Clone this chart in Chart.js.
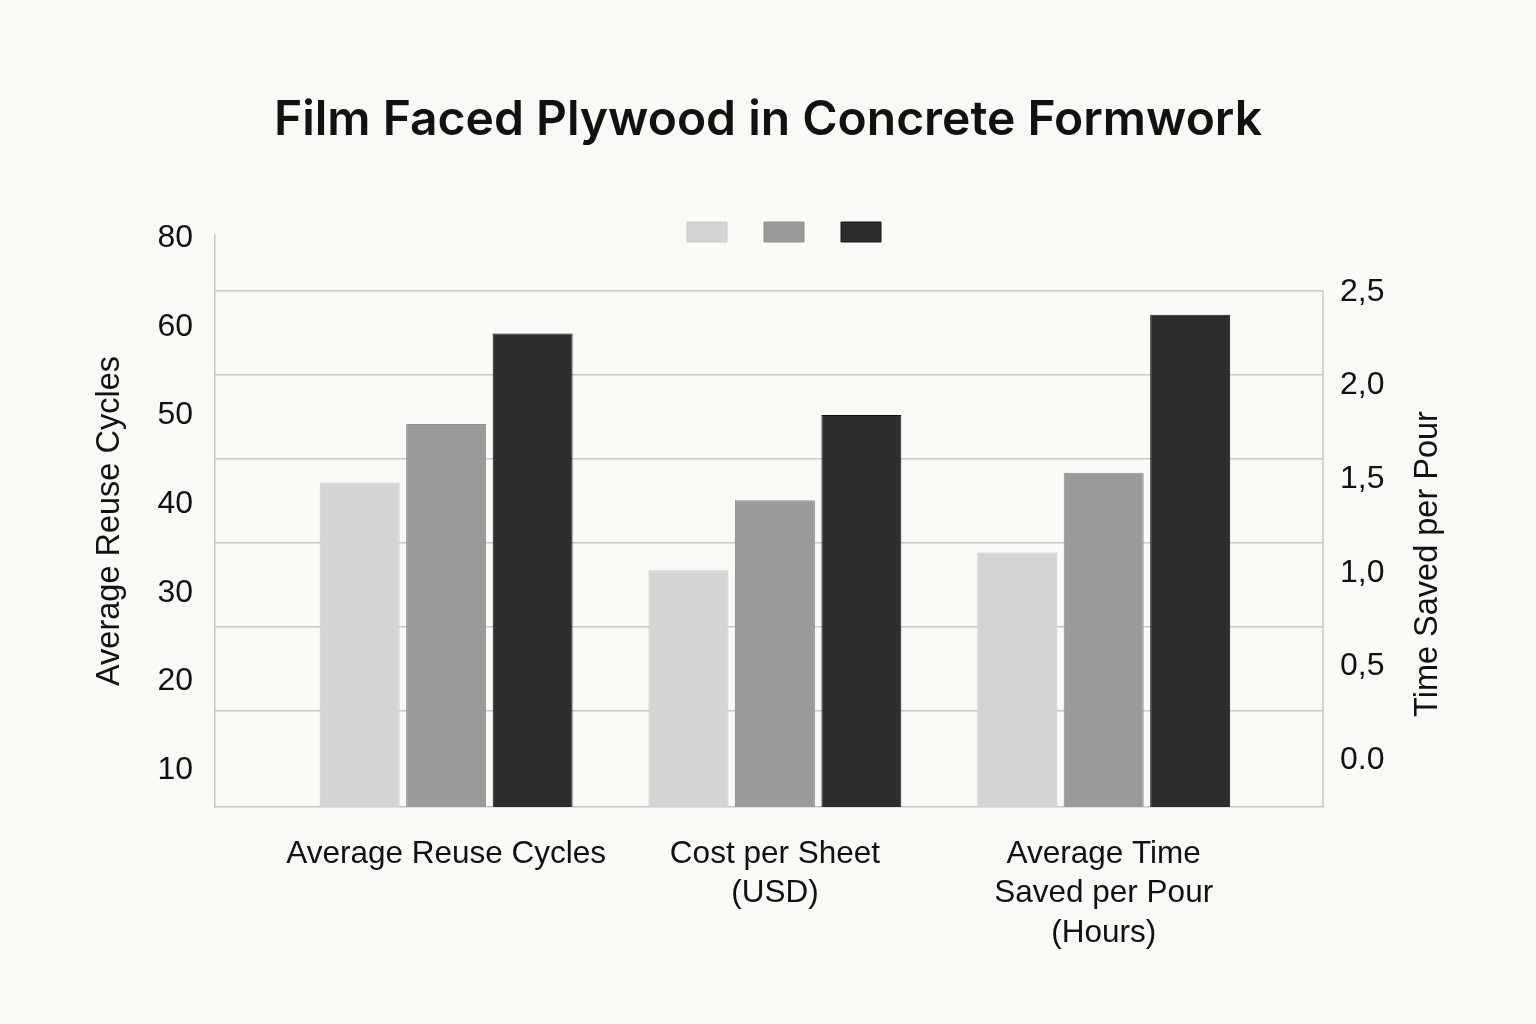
<!DOCTYPE html>
<html>
<head>
<meta charset="utf-8">
<script src="https://cdn.jsdelivr.net/npm/chart.js@4.4.1/dist/chart.umd.min.js"></script>
<style>
  html, body { margin: 0; padding: 0; background: #fbf9f6; }
  #c { display: block; }
</style>
</head>
<body>
<canvas id="c" width="1536" height="1024"></canvas>
<script>
// ---- data ----
const chartTitle = 'Film Faced Plywood in Concrete Formwork';
const categories = [
  ['Average Reuse Cycles'],
  ['Cost per Sheet', '(USD)'],
  ['Average Time', 'Saved per Pour', '(Hours)']
];
const seriesLight = [42.1, 32.2, 34.2];
const seriesMid   = [48.7, 40.1, 43.2];
const seriesDark  = [58.9, 49.7, 61.0];
const seriesLabels = ['', '', ''];
const leftTickValues = [10, 20, 30, 40, 50, 60, 70];
const leftTickLabels = ['10', '20', '30', '40', '50', '60', '80'];
const rightTickValues = [0, 0.5, 1, 1.5, 2, 2.5];
const rightTickLabels = ['0.0', '0,5', '1,0', '1,5', '2,0', '2,5'];
const gridValues = [1, 2, 3, 4, 5, 6];
const leftAxisTitle = 'Average Reuse Cycles';
const rightAxisTitle = 'Time Saved per Pour';

// ---- styles ----
const TEXT = '#111111';
const GRID = '#c9c8c5';
const colors = ['#d4d4d2', '#9a9a99', '#2d2d2d'];
const borders = ['#c8c8c6', '#8e8e8d', '#161616'];
const FONT = "'Liberation Sans', Arial, sans-serif";

Chart.defaults.font.family = FONT;
Chart.defaults.color = TEXT;

const toPoints = arr => arr.map((v, i) => ({ x: i, y: v }));
const allSeries = [seriesLight, seriesMid, seriesDark];

const LEGEND_PAD = 31;

const legendPlace = {
  id: 'legendPlace',
  afterLayout(chart) {
    const lg = chart.legend;
    if (!lg) return;
    const h = lg.height;
    lg.top = 222 - LEGEND_PAD;
    lg.bottom = lg.top + h;
    const cur = (lg.left + LEGEND_PAD + lg.right - lg.lineWidths[0]) / 2;
    const dx = 687 - cur;
    lg.left += dx;
    lg.right += dx;
  }
};

const extras = {
  id: 'extras',
  beforeDatasetsDraw(chart) {
    const { ctx, chartArea, scales } = chart;
    const topY = scales.g.getPixelForValue(gridValues[gridValues.length - 1]);
    ctx.save();
    ctx.strokeStyle = GRID;
    ctx.lineWidth = 1.5;
    ctx.beginPath();
    ctx.moveTo(chartArea.right, topY);
    ctx.lineTo(chartArea.right, chartArea.bottom);
    ctx.stroke();
    ctx.restore();
  },
  afterDraw(chart) {
    const { ctx, chartArea, scales } = chart;
    ctx.save();
    ctx.translate(scales.y1.left + 105, (chartArea.top + chartArea.bottom) / 2 + 43);
    ctx.rotate(-Math.PI / 2);
    ctx.font = '32.5px ' + FONT;
    ctx.fillStyle = TEXT;
    ctx.textAlign = 'center';
    ctx.textBaseline = 'middle';
    ctx.fillText(rightAxisTitle, 0, 0);
    ctx.restore();
  }
};

new Chart(document.getElementById('c'), {
  type: 'bar',
  data: {
    datasets: allSeries.map((s, k) => ({
      label: seriesLabels[k],
      data: toPoints(s),
      backgroundColor: colors[k],
      borderColor: borders[k],
      borderWidth: 1,
      xAxisID: 'x',
      yAxisID: 'y',
      categoryPercentage: 0.789,
      barPercentage: 0.925
    }))
  },
  options: {
    responsive: false,
    animation: false,
    devicePixelRatio: 1,
    layout: { padding: 0 },
    plugins: {
      title: {
        display: true,
        text: chartTitle,
        color: TEXT,
        font: { family: "Inter, 'Liberation Sans', sans-serif", size: 48, weight: '600' },
        padding: { top: 92, bottom: 24.4 }
      },
      legend: {
        display: true,
        position: 'top',
        labels: {
          boxWidth: 40,
          boxHeight: 20,
          padding: LEGEND_PAD,
          font: { size: 12 }
        }
      },
      tooltip: { enabled: false }
    },
    scales: {
      x: {
        type: 'linear',
        position: 'bottom',
        offset: false,
        min: -0.703,
        max: 2.667,
        afterBuildTicks: s => { s.ticks = categories.map((_, i) => ({ value: i })); },
        afterFit: s => { s.height = 217; },
        ticks: {
          callback: v => categories[v],
          font: { size: 31.5, lineHeight: 1.26 },
          color: TEXT,
          padding: 27,
          maxRotation: 0,
          autoSkip: false
        },
        grid: { display: false, drawTicks: false, offset: false },
        border: { display: true, color: GRID, width: 1.5 }
      },
      y: {
        type: 'linear',
        position: 'left',
        min: 5.5,
        max: 70,
        afterBuildTicks: s => { s.ticks = leftTickValues.map(v => ({ value: v })); },
        afterFit: s => { s.width = 215; },
        ticks: {
          callback: (v, i) => leftTickLabels[i],
          font: { size: 32 },
          color: TEXT,
          padding: 22,
          labelOffset: 3
        },
        grid: { display: false, drawTicks: false },
        border: { display: true, color: GRID, width: 1.5 },
        title: {
          display: true,
          text: leftAxisTitle,
          font: { size: 32.5 },
          color: TEXT,
          padding: { top: 91, bottom: 0 }
        }
      },
      g: {
        type: 'linear',
        position: 'right',
        min: -0.146,
        max: 6.668,
        afterBuildTicks: s => { s.ticks = gridValues.map(v => ({ value: v })); },
        afterFit: s => { s.width = 0; },
        ticks: { display: false },
        grid: { display: true, drawTicks: false, color: GRID, lineWidth: 1.5 },
        border: { display: false }
      },
      y1: {
        type: 'linear',
        position: 'right',
        min: -0.268,
        max: 2.789,
        afterBuildTicks: s => { s.ticks = rightTickValues.map(v => ({ value: v })); },
        afterFit: s => { s.width = 213; },
        ticks: {
          callback: (v, i) => rightTickLabels[i],
          font: { size: 32 },
          color: TEXT,
          padding: 17,
          labelOffset: 3
        },
        grid: { display: false, drawTicks: false },
        border: { display: false }
      }
    }
  },
  plugins: [legendPlace, extras]
});
</script>
</body>
</html>
